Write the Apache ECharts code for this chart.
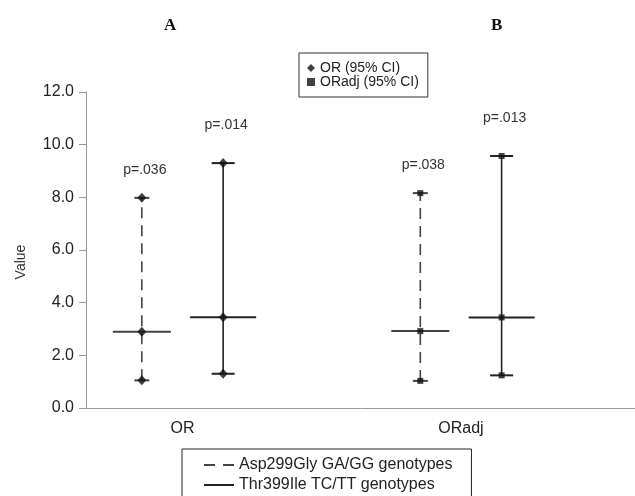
<!DOCTYPE html>
<html>
<head>
<meta charset="utf-8">
<script src="https://cdn.jsdelivr.net/npm/echarts@6/dist/echarts.min.js"></script>
<style>
html, body { margin: 0; padding: 0; background: #fff; }
#chart { width: 635px; height: 496px; }
</style>
</head>
<body>
<div id="chart"></div>
<script>
const categories = ['OR', 'ORadj']
const genotypes = ['Asp299Gly GA/GG genotypes', 'Thr399Ile TC/TT genotypes']
const markerNames = ['OR (95% CI)', 'ORadj (95% CI)']

// lower CI / estimate / upper CI, one value per category
const aspLow = [1.05, 1.03]
const aspMid = [2.90, 2.92]
const aspHigh = [7.98, 8.16]
const thrLow = [1.30, 1.24]
const thrMid = [3.45, 3.44]
const thrHigh = [9.30, 9.57]
const aspP = ['p=.036', 'p=.038']
const thrP = ['p=.014', 'p=.013']

const yMin = 0
const yMax = 12
const yStep = 2

const FONT = '"Liberation Sans", Arial, sans-serif'
const OFFSET = 0.146 // half distance between the two genotypes of a category

const groups = [
  { name: genotypes[0], low: aspLow, mid: aspMid, high: aspHigh, p: aspP, off: -OFFSET,
    dash: [11, 7], color: '#444', capW: 15, midW: 58, pGap: 28 },
  { name: genotypes[1], low: thrLow, mid: thrMid, high: thrHigh, p: thrP, off: OFFSET,
    dash: null, color: '#222', capW: 23, midW: 66, pGap: 38 },
]

function makeRender(g) {
  return function (params, api) {
    const x = api.value(0)
    const lo = api.coord([x, api.value(1)])
    const mid = api.coord([x, api.value(2)])
    const hi = api.coord([x, api.value(3)])
    const seg = (x1, y1, x2, y2, w, d) => ({
      type: 'line',
      shape: { x1, y1, x2, y2 },
      style: { stroke: g.color, lineWidth: w, lineDash: d || null, fill: null },
    })
    return {
      type: 'group',
      children: [
        seg(lo[0], lo[1], hi[0], hi[1], 1.6, g.dash),
        seg(lo[0] - g.capW / 2, lo[1], lo[0] + g.capW / 2, lo[1], 2),
        seg(hi[0] - g.capW / 2, hi[1], hi[0] + g.capW / 2, hi[1], 2),
        seg(mid[0] - g.midW / 2, mid[1], mid[0] + g.midW / 2, mid[1], 2),
        {
          type: 'text',
          x: hi[0] + 3,
          y: hi[1] - g.pGap,
          style: {
            text: g.p[params.dataIndex],
            fill: '#333',
            font: '14px ' + FONT,
            align: 'center',
            verticalAlign: 'middle',
          },
        },
      ],
    }
  }
}

const lineSeries = groups.map(g => ({
  name: g.name,
  type: 'custom',
  renderItem: makeRender(g),
  itemStyle: { color: g.color },
  encode: { x: 0, y: [1, 2, 3] },
  data: categories.map((c, i) => [i + g.off, g.low[i], g.mid[i], g.high[i]]),
  z: 2,
}))

const markerSymbols = ['diamond', 'rect']
const markerSizes = [[9, 10], 6]
const markerSeries = categories.map((c, i) => {
  const pts = []
  groups.forEach(g => {
    pts.push([i + g.off, g.low[i]], [i + g.off, g.mid[i]], [i + g.off, g.high[i]])
  })
  return {
    name: markerNames[i],
    type: 'scatter',
    symbol: markerSymbols[i],
    symbolSize: markerSizes[i],
    itemStyle: { color: '#111' },
    data: pts,
    z: 5,
  }
})

const chart = echarts.init(document.getElementById('chart'))
chart.setOption({
  backgroundColor: '#fff',
  animation: false,
  title: [
    { text: 'A', left: 159, top: 12, textStyle: { fontFamily: '"Liberation Serif", serif', fontWeight: 'bold', fontSize: 17, color: '#111' } },
    { text: 'B', left: 486, top: 12, textStyle: { fontFamily: '"Liberation Serif", serif', fontWeight: 'bold', fontSize: 17, color: '#111' } },
  ],
  legend: [
    {
      data: [
        { name: markerNames[0], icon: 'diamond' },
        { name: markerNames[1], icon: 'rect' },
      ],
      orient: 'vertical',
      left: 299,
      top: 53,
      padding: [8, 9, 8, 8],
      itemWidth: 8,
      itemHeight: 8,
      itemGap: 0,
      selectedMode: false,
      borderColor: '#333',
      borderWidth: 1,
      backgroundColor: '#fff',
      textStyle: { fontFamily: FONT, fontSize: 14, lineHeight: 14, color: '#222' },
    },
    {
      data: [
        { name: genotypes[0], icon: 'path://M0,0h11v2h-11z M19,0h11v2h-11z', itemStyle: { color: '#444' } },
        { name: genotypes[1], icon: 'path://M0,0h30v2h-30z', itemStyle: { color: '#222' } },
      ],
      orient: 'vertical',
      left: 182,
      top: 449,
      height: 80,
      padding: [7, 19, 5, 22],
      itemWidth: 30,
      itemHeight: 2,
      itemGap: 2,
      selectedMode: false,
      borderColor: '#222',
      borderWidth: 1,
      backgroundColor: '#fff',
      textStyle: { fontFamily: FONT, fontSize: 16, lineHeight: 18, color: '#222' },
    },
  ],
  grid: { left: 86, right: 0, top: 92, bottom: 88, containLabel: false },
  xAxis: {
    type: 'value',
    min: -0.3465,
    max: 1.625,
    splitLine: { show: false },
    axisTick: { show: false },
    axisLine: { lineStyle: { color: '#999', width: 1 } },
    axisLabel: {
      customValues: categories.map((c, i) => i),
      formatter: v => categories[Math.round(v)],
      fontFamily: FONT,
      fontSize: 16,
      color: '#222',
      margin: 13,
    },
  },
  yAxis: {
    type: 'value',
    min: yMin,
    max: yMax,
    interval: yStep,
    name: 'Value',
    nameLocation: 'middle',
    nameGap: 58,
    nameTextStyle: { fontFamily: FONT, fontSize: 14, color: '#333', padding: [0, 24, 0, 0] },
    splitLine: { show: false },
    axisLine: { show: true, onZero: false, lineStyle: { color: '#999', width: 1 } },
    axisTick: { show: true, length: 7, lineStyle: { color: '#999' } },
    axisLabel: {
      formatter: v => v.toFixed(1),
      fontFamily: FONT,
      fontSize: 16,
      color: '#222',
      margin: 12,
    },
  },
  series: [...lineSeries, ...markerSeries],
})
</script>
</body>
</html>
